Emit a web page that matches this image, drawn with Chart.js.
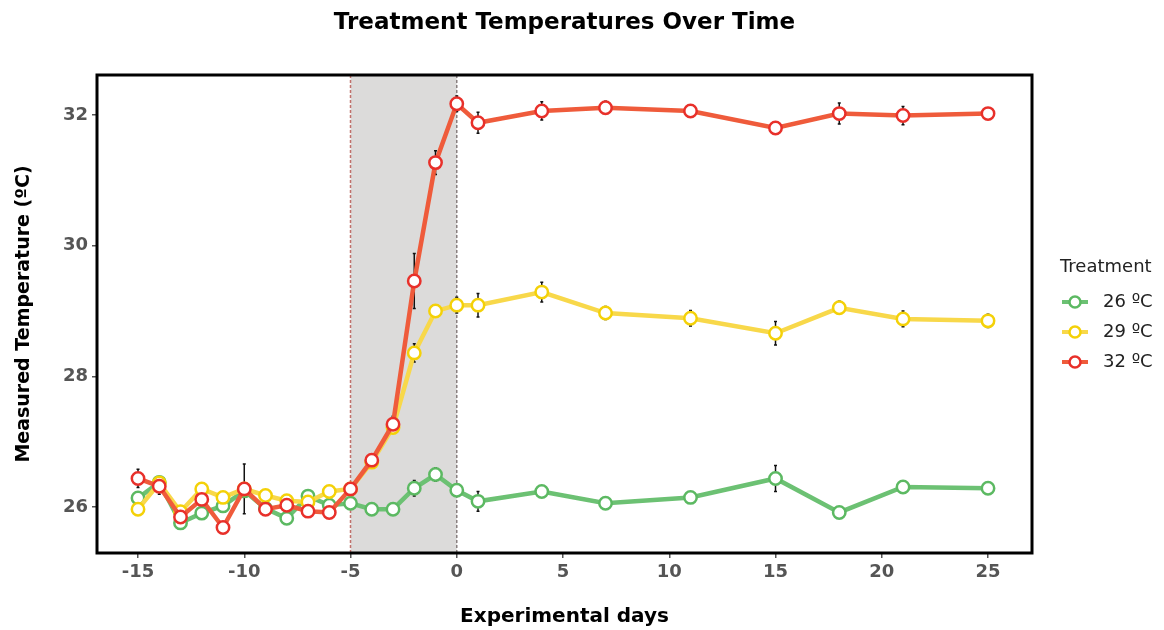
<!DOCTYPE html>
<html>
<head>
<meta charset="utf-8">
<script src="https://cdn.jsdelivr.net/npm/chart.js@4.4.1/dist/chart.umd.min.js"></script>
<style>
  html, body { margin:0; padding:0; background:#fff; }
  #wrap { width:1164px; height:630px; }
</style>
</head>
<body>
<div id="wrap"><canvas id="chart" width="1164" height="630"></canvas></div>
<script>
  // experimental days (x) and mean temperatures per treatment
  const days = [-15,-14,-13,-12,-11,-10,-9,-8,-7,-6,-5,-4,-3,-2,-1,0,1,4,7,11,15,18,21,25];
  const temp26 = [26.14,26.38,25.76,25.91,26.02,26.25,25.98,25.83,26.17,26.03,26.06,25.97,25.97,26.29,26.50,26.26,26.09,26.24,26.06,26.15,26.44,25.92,26.31,26.29];
  const temp29 = [25.97,26.37,25.93,26.28,26.15,26.28,26.18,26.10,26.08,26.24,26.28,26.69,27.22,28.36,29.00,29.09,29.09,29.29,28.97,28.89,28.66,29.05,28.88,28.85];
  const temp32 = [26.44,26.32,25.85,26.12,25.69,26.28,25.97,26.03,25.94,25.92,26.28,26.72,27.27,29.46,31.27,32.17,31.88,32.06,32.11,32.06,31.80,32.02,31.99,32.02];
  // error bar half-lengths
  const err26 = [0.06,0.05,0.05,0.03,0.03,0.05,0.03,0.08,0.05,0.03,0.03,0.04,0.08,0.12,0.10,0.08,0.15,0.08,0.08,0.06,0.20,0.08,0.03,0.04];
  const err29 = [0.05,0.06,0.05,0.05,0.03,0.38,0.03,0.05,0.05,0.03,0.03,0.05,0.08,0.14,0.08,0.12,0.18,0.15,0.10,0.12,0.18,0.10,0.12,0.10];
  const err32 = [0.14,0.12,0.08,0.08,0.05,0.06,0.06,0.05,0.05,0.05,0.06,0.08,0.12,0.42,0.18,0.12,0.16,0.14,0.10,0.08,0.05,0.16,0.14,0.05];
  const labels = ['26 ºC','29 ºC','32 ºC'];
  const rampWindow = [-5, 0];

  const FONT = '"DejaVu Sans", Verdana, sans-serif';

  function pts(ys){ return days.map((d,i)=>({ x:d, y:ys[i] })); }

  function series(label, ys, errs, line, mark, order){
    return {
      label, data: pts(ys), errs, order,
      borderColor: line, borderWidth: 4.5, tension: 0,
      pointRadius: 6.2, pointBorderWidth: 2.5,
      pointBackgroundColor: '#fff', pointBorderColor: mark,
      pointHoverRadius: 6.2
    };
  }

  // grey shaded ramp window with dashed borders, then error bars
  const shadePlugin = {
    id: 'shade',
    beforeDatasetsDraw(chart){
      const {ctx, chartArea:a, scales:{x}} = chart;
      const x0 = x.getPixelForValue(rampWindow[0]), x1 = x.getPixelForValue(rampWindow[1]);
      ctx.save();
      ctx.fillStyle = '#dcdbda';
      ctx.fillRect(x0, a.top, x1-x0, a.bottom-a.top);
      ctx.setLineDash([3,2]);
      ctx.lineWidth = 1.5;
      ctx.strokeStyle = '#c0706a';
      ctx.beginPath(); ctx.moveTo(x0, a.top); ctx.lineTo(x0, a.bottom); ctx.stroke();
      ctx.strokeStyle = '#8a8080';
      ctx.beginPath(); ctx.moveTo(x1, a.top); ctx.lineTo(x1, a.bottom); ctx.stroke();
      ctx.restore();
      // error bars under lines
      const y = chart.scales.y;
      ctx.save();
      ctx.strokeStyle = '#111';
      ctx.lineWidth = 1.5;
      chart.data.datasets.forEach(ds=>{
        ds.data.forEach((p,i)=>{
          const e = ds.errs[i];
          const px = x.getPixelForValue(p.x);
          const top = y.getPixelForValue(p.y + e), bot = y.getPixelForValue(p.y - e);
          ctx.beginPath();
          ctx.moveTo(px, top); ctx.lineTo(px, bot);
          ctx.moveTo(px-1.5, top); ctx.lineTo(px+1.5, top);
          ctx.moveTo(px-1.5, bot); ctx.lineTo(px+1.5, bot);
          ctx.stroke();
        });
      });
      ctx.restore();
    }
  };

  // frame, title and legend
  const decorPlugin = {
    id: 'decor',
    afterDraw(chart){
      const {ctx, chartArea:a} = chart;
      ctx.save();
      ctx.strokeStyle = '#000';
      ctx.lineWidth = 3;
      ctx.strokeRect(a.left, a.top, a.right-a.left, a.bottom-a.top);

      ctx.fillStyle = '#000';
      ctx.font = 'bold 23px ' + FONT;
      ctx.textAlign = 'center'; ctx.textBaseline = 'middle';
      ctx.fillText('Treatment Temperatures Over Time', (a.left+a.right)/2, 23);

      ctx.textAlign = 'left';
      ctx.fillStyle = '#222';
      ctx.font = '18px ' + FONT;
      ctx.fillText('Treatment', 1060, 267);
      const order = [2,1,0]; // legend lists green, yellow, red
      order.forEach((di, k)=>{
        const ds = chart.data.datasets[di];
        const cy = 302 + k*30;
        ctx.strokeStyle = ds.borderColor; ctx.lineWidth = 4;
        ctx.beginPath(); ctx.moveTo(1062, cy); ctx.lineTo(1088, cy); ctx.stroke();
        ctx.beginPath(); ctx.arc(1075, cy, 5.5, 0, Math.PI*2);
        ctx.fillStyle = '#fff'; ctx.fill();
        ctx.lineWidth = 2.5; ctx.strokeStyle = ds.pointBorderColor; ctx.stroke();
        ctx.fillStyle = '#222';
        ctx.fillText(ds.label, 1103, cy);
      });
      ctx.restore();
    }
  };

  const tickFont = { family: FONT, size: 18, weight: 'bold' };

  new Chart(document.getElementById('chart'), {
    type: 'line',
    data: {
      datasets: [
        series(labels[2], temp32, err32, '#ef5b3b', '#e8302a', 0),
        series(labels[1], temp29, err29, '#f8d84a', '#f4d108', 1),
        series(labels[0], temp26, err26, '#6cc173', '#5cb962', 2)
      ]
    },
    options: {
      responsive: false,
      animation: false,
      layout: { padding: { top: 75, right: 132, left: 0, bottom: 0 } },
      plugins: { legend: { display: false }, tooltip: { enabled: false }, title: { display: false } },
      scales: {
        x: {
          type: 'linear', min: -16.93, max: 27.07,
          border: { display: false },
          grid: { drawOnChartArea: false, drawTicks: true, tickLength: 5, color: '#555', lineWidth: 1.5 },
          ticks: { stepSize: 5, includeBounds: false, font: tickFont, color: '#555', padding: 4 },
          title: { display: true, text: 'Experimental days', font: { family: FONT, size: 20, weight: 'bold' }, color: '#000', padding: { top: 2, bottom: 1 } },
          afterFit(s){ s.height = 77; }
        },
        y: {
          min: 25.3, max: 32.61,
          border: { display: false },
          grid: { drawOnChartArea: false, drawTicks: true, tickLength: 5, color: '#555', lineWidth: 1.5 },
          ticks: { stepSize: 2, includeBounds: false, font: tickFont, color: '#555', padding: 4 },
          title: { display: true, text: 'Measured Temperature (ºC)', font: { family: FONT, size: 19, weight: 'bold' }, color: '#000', padding: { top: 13, bottom: 0 } },
          afterFit(s){ s.width = 97; }
        }
      }
    },
    plugins: [shadePlugin, decorPlugin]
  });
</script>
</body>
</html>
